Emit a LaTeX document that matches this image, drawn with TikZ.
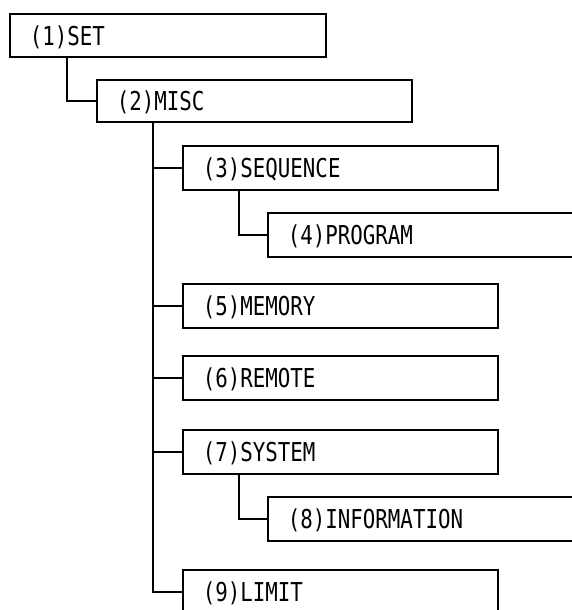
\documentclass[tikz,border=0pt]{standalone}
\usepackage{fontspec}
\newfontfamily\gfont[FakeStretch=0.8]{DejaVu Sans Mono}
\begin{document}
\begin{tikzpicture}[x=1pt,y=-1pt,
  box/.style={draw=black, line width=1.6pt, anchor=north west, minimum height=44pt,
    inner xsep=20pt, inner ysep=0pt, align=left, text width=#1,
    text height=19.5pt, text depth=0pt, font=\gfont\fontsize{26}{30}\selectfont},
  conn/.style={draw=black, line width=1.6pt}]
\useasboundingbox (0,0) rectangle (572,610);
\clip (0,0) rectangle (572,610);
\fill[white] (0,0) rectangle (572,610);
\node[box=276pt, minimum height=43pt] (n1) at (9,13) {(1)SET};
\node[box=275pt, minimum height=42pt] (n2) at (96,79) {(2)MISC};
\node[box=275pt] (n3) at (182,145) {(3)SEQUENCE};
\node[box=300pt] (n4) at (267,212) {(4)PROGRAM};
\node[box=275pt] (n5) at (182,283) {(5)MEMORY};
\node[box=275pt] (n6) at (182,355) {(6)REMOTE};
\node[box=275pt] (n7) at (182,429) {(7)SYSTEM};
\node[box=300pt] (n8) at (267,496) {(8)INFORMATION};
\node[box=275pt] (n9) at (182,569) {(9)LIMIT};
\coordinate (t1) at ([xshift=58pt]n1.south west);
\coordinate (t2) at ([xshift=57pt]n2.south west);
\coordinate (t3) at ([xshift=57pt]n3.south west);
\coordinate (t7) at ([xshift=57pt]n7.south west);
\draw[conn] (t1) |- (n2.west);
\draw[conn] (t2) |- (n9.west);
\foreach \n in {n3,n5,n6,n7} \draw[conn] (\n.west) -- (\n.west -| t2);
\draw[conn] (t3) |- (n4.west);
\draw[conn] (t7) |- (n8.west);
\end{tikzpicture}
\end{document}
